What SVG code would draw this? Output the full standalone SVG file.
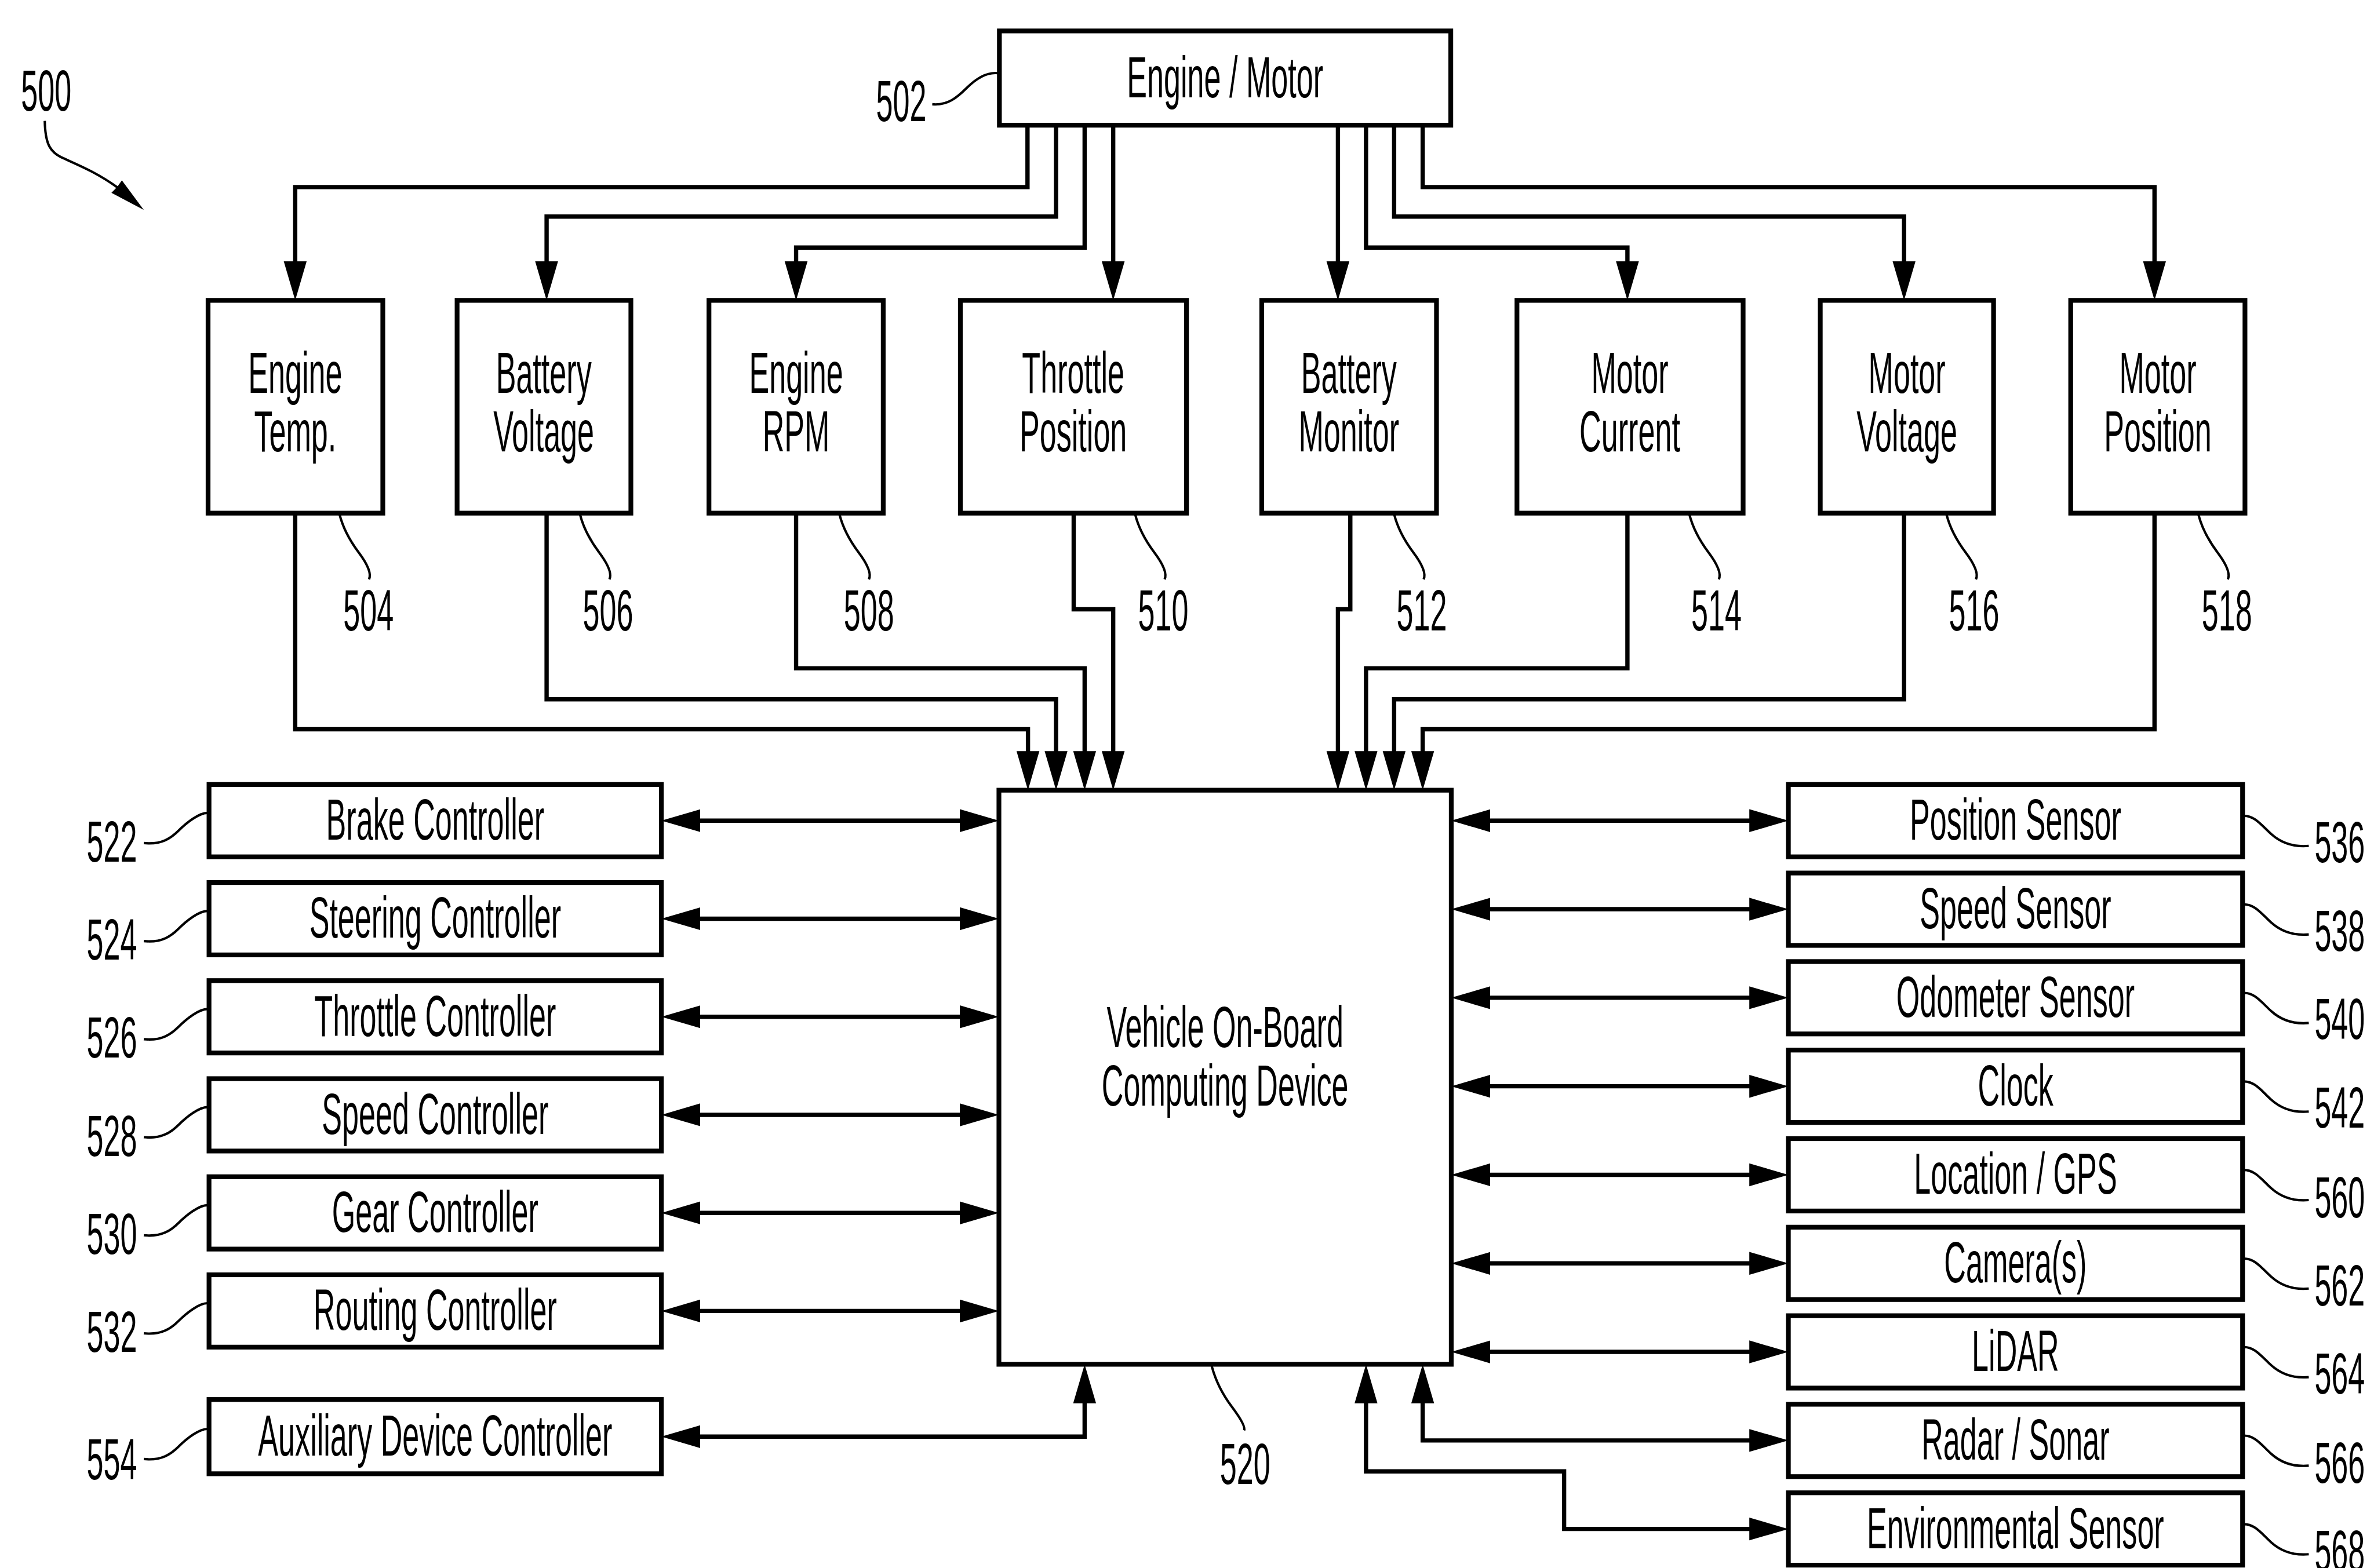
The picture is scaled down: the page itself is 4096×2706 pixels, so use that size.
<svg xmlns="http://www.w3.org/2000/svg" width="4096" height="2706" viewBox="0 0 4096 2706">
<style>
.box{fill:#fff;stroke:#000;stroke-width:10}
.ln{fill:none;stroke:#000;stroke-width:9}
.ld{fill:none;stroke:#000;stroke-width:5}
.t{font-family:"Liberation Sans",Arial,Helvetica,sans-serif;font-size:122px;fill:#000;text-anchor:middle;transform-box:fill-box;transform-origin:center;transform:scaleX(0.52)}
</style>
<defs>
<marker id="ah" markerUnits="userSpaceOnUse" markerWidth="84" markerHeight="50" viewBox="0 0 84 50" refX="2" refY="25" orient="auto-start-reverse">
<path d="M0,1 L82,25 L0,49 z" fill="#000"/>
</marker>
</defs>
<rect width="4096" height="2706" fill="#fff"/>
<g transform="scale(0.8215)">

<g id="connectors">
<g class="ln" marker-end="url(#ah)">
<path d="M2158,263 V393 H620 V551"/>
<path d="M2218,263 V455 H1148 V551"/>
<path d="M2278,263 V520 H1672 V551"/>
<path d="M2338,263 V551"/>
<path d="M2810,263 V551"/>
<path d="M2869,263 V520 H3418 V551"/>
<path d="M2928,263 V455 H3999 V551"/>
<path d="M2988,263 V393 H4525 V551"/>
<path d="M620,1078 V1532 H2159 V1580"/>
<path d="M1148,1078 V1469 H2218 V1580"/>
<path d="M1672,1078 V1404 H2278 V1580"/>
<path d="M2255,1078 V1280 H2338 V1580"/>
<path d="M2836,1078 V1280 H2810 V1580"/>
<path d="M3418,1078 V1404 H2869 V1580"/>
<path d="M3999,1078 V1469 H2928 V1580"/>
<path d="M4525,1078 V1532 H2988 V1580"/>
</g>
<g class="ln" marker-start="url(#ah)" marker-end="url(#ah)">
<path d="M1469,1724 H2018"/>
<path d="M1469,1930 H2018"/>
<path d="M1469,2136 H2018"/>
<path d="M1469,2342 H2018"/>
<path d="M1469,2548 H2018"/>
<path d="M1469,2754 H2018"/>
<path d="M1469,3018 H2278 V2946"/>
<path d="M3128,1724 H3676"/>
<path d="M3128,1910 H3676"/>
<path d="M3128,2096 H3676"/>
<path d="M3128,2282 H3676"/>
<path d="M3128,2468 H3676"/>
<path d="M3128,2654 H3676"/>
<path d="M3128,2840 H3676"/>
<path d="M2988,2946 V3026 H3676"/>
<path d="M2869,2946 V3091 H3285 V3212 H3676"/>
</g>
</g>

<g id="ref-500">
<text class="t" x="97" y="232">500</text>
<path class="ld" d="M94,254 C95,300 104,318 128,330 C160,345 200,360 247,394"/>
<polygon points="302,441 234,405 246,393 256,379" fill="#000"/>
</g>

<g id="n502">
<rect class="box" x="2099" y="65" width="948" height="198"/>
<text class="t" x="2573" y="205">Engine / Motor</text>
<path class="ld" d="M1958,219 C1990,222 2010,205 2030,185 S2075,150 2099,154"/>
<text class="t" x="1893" y="254">502</text>
</g>

<g id="n504">
<rect class="box" x="437" y="631" width="367" height="447"/>
<text class="t" x="620" y="825">Engine</text>
<text class="t" x="620" y="948">Temp.</text>
<path class="ld" d="M713,1080 q10,40 40,80 t22,57"/>
<text class="t" x="774" y="1325">504</text>
</g>
<g id="n506">
<rect class="box" x="960" y="631" width="365" height="447"/>
<text class="t" x="1142" y="825">Battery</text>
<text class="t" x="1142" y="948">Voltage</text>
<path class="ld" d="M1218,1080 q10,40 40,80 t22,57"/>
<text class="t" x="1277" y="1325">506</text>
</g>
<g id="n508">
<rect class="box" x="1489" y="631" width="366" height="447"/>
<text class="t" x="1672" y="825">Engine</text>
<text class="t" x="1672" y="948">RPM</text>
<path class="ld" d="M1763,1080 q10,40 40,80 t22,57"/>
<text class="t" x="1825" y="1325">508</text>
</g>
<g id="n510">
<rect class="box" x="2017" y="631" width="475" height="447"/>
<text class="t" x="2254" y="825">Throttle</text>
<text class="t" x="2254" y="948">Position</text>
<path class="ld" d="M2384,1080 q10,40 40,80 t22,57"/>
<text class="t" x="2443" y="1325">510</text>
</g>
<g id="n512">
<rect class="box" x="2650" y="631" width="367" height="447"/>
<text class="t" x="2833" y="825">Battery</text>
<text class="t" x="2833" y="948">Monitor</text>
<path class="ld" d="M2928,1080 q10,40 40,80 t22,57"/>
<text class="t" x="2986" y="1325">512</text>
</g>
<g id="n514">
<rect class="box" x="3186" y="631" width="475" height="447"/>
<text class="t" x="3423" y="825">Motor</text>
<text class="t" x="3423" y="948">Current</text>
<path class="ld" d="M3548,1080 q10,40 40,80 t22,57"/>
<text class="t" x="3605" y="1325">514</text>
</g>
<g id="n516">
<rect class="box" x="3823" y="631" width="364" height="447"/>
<text class="t" x="4005" y="825">Motor</text>
<text class="t" x="4005" y="948">Voltage</text>
<path class="ld" d="M4088,1080 q10,40 40,80 t22,57"/>
<text class="t" x="4146" y="1325">516</text>
</g>
<g id="n518">
<rect class="box" x="4349" y="631" width="366" height="447"/>
<text class="t" x="4532" y="825">Motor</text>
<text class="t" x="4532" y="948">Position</text>
<path class="ld" d="M4617,1080 q10,40 40,80 t22,57"/>
<text class="t" x="4677" y="1325">518</text>
</g>

<g id="n520">
<rect class="box" x="2098" y="1660" width="950" height="1206"/>
<text class="t" x="2573" y="2200">Vehicle On-Board</text>
<text class="t" x="2573" y="2323">Computing Device</text>
<path class="ld" d="M2545,2870 q12,45 42,85 t26,50"/>
<text class="t" x="2615" y="3118">520</text>
</g>

<g id="n522">
<rect class="box" x="439" y="1648" width="950" height="152"/>
<text class="t" x="914" y="1764">Brake Controller</text>
<path class="ld" d="M302,1771 c38,4 58,-11 73,-26 s45,-40 64,-37"/>
<text class="t" x="235" y="1810">522</text>
</g>
<g id="n524">
<rect class="box" x="439" y="1854" width="950" height="152"/>
<text class="t" x="914" y="1970">Steering Controller</text>
<path class="ld" d="M302,1977 c38,4 58,-11 73,-26 s45,-40 64,-37"/>
<text class="t" x="235" y="2016">524</text>
</g>
<g id="n526">
<rect class="box" x="439" y="2060" width="950" height="152"/>
<text class="t" x="914" y="2176">Throttle Controller</text>
<path class="ld" d="M302,2183 c38,4 58,-11 73,-26 s45,-40 64,-37"/>
<text class="t" x="235" y="2222">526</text>
</g>
<g id="n528">
<rect class="box" x="439" y="2266" width="950" height="152"/>
<text class="t" x="914" y="2382">Speed Controller</text>
<path class="ld" d="M302,2389 c38,4 58,-11 73,-26 s45,-40 64,-37"/>
<text class="t" x="235" y="2428">528</text>
</g>
<g id="n530">
<rect class="box" x="439" y="2472" width="950" height="152"/>
<text class="t" x="914" y="2588">Gear Controller</text>
<path class="ld" d="M302,2595 c38,4 58,-11 73,-26 s45,-40 64,-37"/>
<text class="t" x="235" y="2634">530</text>
</g>
<g id="n532">
<rect class="box" x="439" y="2678" width="950" height="152"/>
<text class="t" x="914" y="2794">Routing Controller</text>
<path class="ld" d="M302,2801 c38,4 58,-11 73,-26 s45,-40 64,-37"/>
<text class="t" x="235" y="2840">532</text>
</g>
<g id="n554">
<rect class="box" x="439" y="2940" width="950" height="156"/>
<text class="t" x="914" y="3058">Auxiliary Device Controller</text>
<path class="ld" d="M302,3065 c38,4 58,-11 73,-26 s45,-40 64,-37"/>
<text class="t" x="235" y="3108">554</text>
</g>

<g id="n536">
<rect class="box" x="3756" y="1648" width="954" height="152"/>
<text class="t" x="4233" y="1764">Position Sensor</text>
<path class="ld" d="M4710,1714 c25,-2 40,20 60,38 s45,28 79,25"/>
<text class="t" x="4914" y="1811">536</text>
</g>
<g id="n538">
<rect class="box" x="3756" y="1834" width="954" height="152"/>
<text class="t" x="4233" y="1950">Speed Sensor</text>
<path class="ld" d="M4710,1900 c25,-2 40,20 60,38 s45,28 79,25"/>
<text class="t" x="4914" y="1997">538</text>
</g>
<g id="n540">
<rect class="box" x="3756" y="2020" width="954" height="152"/>
<text class="t" x="4233" y="2136">Odometer Sensor</text>
<path class="ld" d="M4710,2086 c25,-2 40,20 60,38 s45,28 79,25"/>
<text class="t" x="4914" y="2183">540</text>
</g>
<g id="n542">
<rect class="box" x="3756" y="2206" width="954" height="152"/>
<text class="t" x="4233" y="2322">Clock</text>
<path class="ld" d="M4710,2272 c25,-2 40,20 60,38 s45,28 79,25"/>
<text class="t" x="4914" y="2369">542</text>
</g>
<g id="n560">
<rect class="box" x="3756" y="2392" width="954" height="152"/>
<text class="t" x="4233" y="2508">Location / GPS</text>
<path class="ld" d="M4710,2458 c25,-2 40,20 60,38 s45,28 79,25"/>
<text class="t" x="4914" y="2557">560</text>
</g>
<g id="n562">
<rect class="box" x="3756" y="2578" width="954" height="152"/>
<text class="t" x="4233" y="2694">Camera(s)</text>
<path class="ld" d="M4710,2644 c25,-2 40,20 60,38 s45,28 79,25"/>
<text class="t" x="4914" y="2742">562</text>
</g>
<g id="n564">
<rect class="box" x="3756" y="2764" width="954" height="152"/>
<text class="t" x="4233" y="2880">LiDAR</text>
<path class="ld" d="M4710,2830 c25,-2 40,20 60,38 s45,28 79,25"/>
<text class="t" x="4914" y="2927">564</text>
</g>
<g id="n566">
<rect class="box" x="3756" y="2950" width="954" height="152"/>
<text class="t" x="4233" y="3066">Radar / Sonar</text>
<path class="ld" d="M4710,3016 c25,-2 40,20 60,38 s45,28 79,25"/>
<text class="t" x="4914" y="3115">566</text>
</g>
<g id="n568">
<rect class="box" x="3756" y="3136" width="954" height="152"/>
<text class="t" x="4233" y="3252">Environmental Sensor</text>
<path class="ld" d="M4710,3202 c25,-2 40,20 60,38 s45,28 79,25"/>
<text class="t" x="4914" y="3300">568</text>
</g>

</g>
</svg>
